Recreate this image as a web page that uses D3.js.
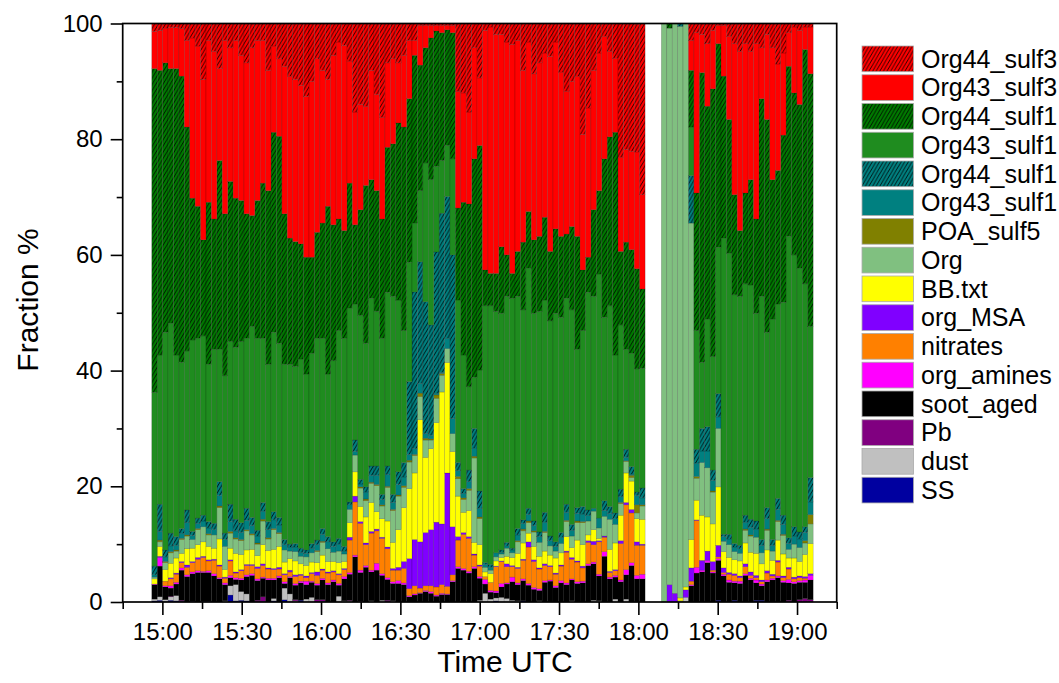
<!DOCTYPE html>
<html>
<head>
<meta charset="utf-8">
<script src="https://cdn.jsdelivr.net/npm/d3@7"></script>
<style>
  html, body { margin: 0; padding: 0; background: #fff; }
  svg text { font-family: "Liberation Sans", Arial, sans-serif; fill: #000; }
</style>
</head>
<body>
<svg id="chart" width="1059" height="683"></svg>
<script>
// ── time bins (2.05 min steps, gap of 3 bins before the Org-only period) ──
const binStart = '14:56:00';
const binSeconds = 123;
const xDomain = ['14:45', '19:15'];
const majorTicks = ['15:00', '15:30', '16:00', '16:30', '17:00', '17:30', '18:00', '18:30', '19:00'];
const minorTicks = ['14:45', '15:15', '15:45', '16:15', '16:45', '17:15', '17:45', '18:15', '18:45', '19:15'];
const yMajor = [0, 20, 40, 60, 80, 100];
const yMinor = [10, 30, 50, 70, 90];

// ── fraction % per series (bottom of stack first) ──
const SS = [.2,.3,.1,.3,.2,.1,0,.1,0,.1, .1,0,0,0,1.2,.2,.3,.2,0,0, .1,0,.2,0,.4,0,0,.3,0,0, 0,.1,0,0,0,0,0,0,0,0,
  0,0,0,0,0,0,0,0,0,0, 0,0,0,0,0,0,0,0,0,0, 0,0,0,.2,0,0,0,0,.2,0, 0,0,0,0,0,0,0,0,0,0, 0,0,0,0,0,0,0,0,0,0, 0,
  null,null,null, 0,0,0,0,0,
  0,0,0,0,0,.3,0,0,.3,0, 0,0,.3,.3,0,0,0,0,0,0, 0,0,0];
const dust = [.3,.6,.3,.6,.9,0,0,0,0,0, 0,0,0,.2,1.6,2.8,1.5,1.2,0,0, 0,0,.4,0,2.0,1.4,.2,0,.5,.8, 0,0,0,0,1.0,.2,.2,0,0,0,
  .2,0,.3,0,.2,0,0,0,0,0, 0,0,0,0,0,0,0,0,0,0, .3,1.5,.5,.5,.8,.6,.3,.2,0,0, 0,.2,0,0,0,0,0,.2,0,0, 0,.3,.2,0,0,.5,0,.5,0,0, 0,
  null,null,null, 0,0,0,.2,.8,
  0,0,0,0,0,0,0,0,0,0, 0,0,0,0,0,0,0,0,0,0, 0,0,0];
const Pb = [0,0,0,.1,0,.2,0,0,0,0, 0,0,0,0,0,0,0,0,0,.3, .8,0,0,0,0,0,.2,0,0,0, .4,.3,0,0,0,0,.1,0,.1,0,
  0,0,0,.3,0,0,0,0,0,0, 0,0,0,0,0,0,0,0,0,0, 0,0,0,0,0,0,0,0,0,0, 0,0,0,0,0,0,0,0,0,0, 0,0,0,0,0,0,0,0,0,0, 0,
  null,null,null, 0,0,0,0,0,
  0,0,0,0,0,0,0,0,0,0, 0,0,0,0,0,0,0,0,.3,0, .4,.6,.4];
const soot = [2.5,5.3,2.2,1.4,2.0,5.2,4.4,4.8,5.1,5.0, 5.0,4.5,4.0,2.8,1.4,.9,2.0,3.0,4.6,3.4, 3.2,3.8,3.2,4.2,.8,2.8,2.5,3.0,2.5,2.6,
  2.5,3.4,3.0,3.5,1.9,3.8,4.5,7.8,5.0,6.0, 5.0,5.5,4.3,3.6,3.0,3.2,3.0,.9,1.2,1.5, 1.8,1.5,1.0,1.3,1.3,3.5,5.8,5.5,5.0,5.8,
  3.8,1.6,1.2,.9,1.8,2.5,3.2,2.8,3.5,2.9, 2.2,1.8,3.4,3.6,2.5,3.3,3.0,3.6,3.2,3.3, 6.3,6.3,4.3,7.9,4.0,3.8,3.5,4.2,6.3,4.0, 4.0,
  null,null,null, 0,0,0,0,0,
  2.8,5.0,5.2,6.8,5.0,6.9,4.5,3.4,3.0,3.2, 4.6,3.8,3.0,2.5,3.5,3.8,4.2,3.4,3.0,3.2, 3.0,2.8,3.4];
const amines = [.1,1.5,.2,.4,.3,.4,.3,.3,.3,.2, .3,.4,.2,.3,.4,.3,.3,.3,.3,.3, .2,.3,.3,.3,.3,.2,.3,.3,.6,.2,
  .3,.3,.3,.3,.3,.4,.3,.3,.4,.3, .3,1.2,.3,.3,.3,.5,.3,.2,.2,.1, .2,.3,.2,.2,.1,.2,.3,.3,.3,.3,
  .3,.8,.3,.3,.6,.2,.8,.3,.3,.3, .3,.3,.3,.2,.3,.4,.3,.2,.3,.3, .3,.3,.3,.8,.3,.3,.3,.9,.5,.6, .8,
  null,null,null, 0,0,0,0,0,
  .2,1.0,.3,.4,.2,.3,.3,.4,.3,.4, .3,.3,.5,.3,.3,.3,.3,.3,.6,.3, .3,.4,.8];
const nitrates = [0,0,.8,1.2,1.4,.9,1.3,1.6,2.0,2.4, 1.7,2.3,2.0,.8,2.5,.8,1.3,1.6,1.4,1.8, 2.0,1.6,1.5,1.2,1.2,.8,1.2,1.0,.6,1.3,
  1.4,1.4,1.7,1.4,1.5,1.2,5.6,9.2,8.1,3.6, 6.4,5.6,6.1,5.0,2.0,1.8,2.5,1.2,1.4,.8, .8,1.0,1.4,1.5,1.3,1.0,4.6,5.9,5.7,2.0,
  1.8,.5,1.4,4.2,3.8,2.8,1.8,2.5,3.2,6.3, 4.5,3.4,2.6,2.3,2.0,2.5,5.3,3.4,3.4,2.3, 3.7,3.0,5.6,2.5,.8,.8,6.3,11.2,8.6,5.2, 5.0,
  null,null,null, 0,0,0,0,0,
  .6,8.1,0,0,.3,.3,.3,1.0,1.0,.6, 1.2,.5,.4,.4,1.2,.4,2.4,.5,1.8,.5, .5,.3,0];
const orgMSA = [0,.2,0,.2,.2,.2,.4,.2,.3,.2, .2,.2,.2,.2,.2,.2,.2,.2,.2,.3, .3,.2,.2,.3,.2,.3,.3,.2,.3,.2,
  .6,.2,.2,.2,.2,.2,.5,1.0,.3,.3, .3,.3,.2,.3,.3,.5,1.2,5.2,8.0,8.0, 9.2,9.7,11.2,10.5,19.6,8.3,.6,.3,.3,.2,
  .2,0,0,.1,.1,.5,.2,.2,.2,.9, .3,.2,.3,.2,.2,.2,.2,.3,.2,.3, .3,.6,.2,.2,.2,.2,.5,.4,.6,.6, .2,
  null,null,null, 0,3.0,1.5,0,1.3,
  2.3,.1,1.7,1.6,1.5,2.0,.8,.3,.3,.3, .5,.6,.4,.3,.4,.3,.3,.3,.3,.3, .3,.3,.3];
const BB = [.9,1.7,2.0,2.5,2.6,1.4,2.8,2.3,2.2,2.5, 2.3,1.9,4.5,1.3,2.0,3.2,2.6,2.5,2.6,1.9, 3.3,3.0,3.3,3.6,2.0,2.0,2.4,1.8,1.8,1.8,
  1.6,2.4,1.8,1.6,1.9,1.2,2.5,4.2,2.6,4.5, 5.0,3.0,3.2,4.5,4.5,6.5,9.3,12.1,11.5,21.1, 13.0,14.0,17.2,22.8,19.1,13.0,7.0,3.5,4.5,2.0,
  3.5,.8,1.5,.9,.6,1.3,1.4,2.4,2.8,1.5, 2.3,2.0,2.2,1.8,2.6,2.1,2.5,1.7,3.6,3.7, 1.0,2.0,.4,0,3.8,4.6,4.4,5.1,4.9,4.0, 4.3,
  null,null,null, 0,0,0,.5,.5,
  4.9,3.4,7.8,5.9,6.5,10.1,2.8,2.6,2.4,2.6, 3.6,3.4,3.8,2.8,3.6,2.4,3.5,3.8,1.6,3.3, 2.5,3.8,5.2];
const Org = [.3,.8,1.2,1.8,1.2,2.4,2.2,1.5,2.6,2.6, 2.0,2.3,5.4,4.0,2.6,2.5,2.4,3.3,2.5,2.0, 4.1,2.0,3.4,2.2,2.1,1.3,1.6,1.3,1.5,1.6,
  1.9,2.2,2.2,1.6,2.0,1.3,2.3,2.9,3.2,2.8, 3.3,4.5,2.2,5.8,5.5,5.8,3.5,4.6,3.0,4.0, 3.0,1.5,4.2,2.9,2.4,3.1,3.0,2.2,3.5,14.6,
  4.5,.8,.6,.7,.6,1.4,.8,2.0,2.1,1.8, 2.5,2.4,3.2,1.6,1.2,1.6,2.6,2.0,3.0,3.8, 2.4,3.2,1.8,3.4,5.2,3.2,2.0,2.0,.6,1.0, 2.3,
  null,null,null, 100,96.2,98.5,98.8,97.4,
  54.7,3.8,9.1,8.5,5.5,10.1,1.8,2.2,1.4,1.3, 2.2,2.8,2.8,1.9,3.4,1.6,3.2,3.2,1.5,2.4, 2.4,2.0,3.4];
const POAsulf5 = [0,.3,.2,.2,.2,.2,.2,0,.2,0, .2,0,.3,0,.3,.2,.2,.2,.2,.2, .3,.2,.2,.2,0,0,0,0,0,0,
  .2,.2,0,0,0,0,0,0,.2,.3, .2,.2,.2,.2,.2,.2,.3,.3,.2,.6, .3,.2,.6,.3,0,0,.4,.3,.3,.3,
  .3,0,0,0,0,0,0,.2,.3,.3, .2,0,.2,0,0,0,.2,0,.3,.2, 0,0,0,0,0,0,.2,.1,.4,1.4, .2,
  null,null,null, 0,0,0,0,0,
  0,.3,0,0,.2,0,0,0,0,0, .2,.2,0,0,.2,0,.2,.2,0,0, 0,.4,1.6];
const org43sulf1b = [.4,1.5,.8,1.0,.8,.9,2.1,.7,.9,1.0, 1.0,.9,1.8,1.2,1.7,1.2,1.2,1.6,1.4,1.2, 1.4,1.4,1.5,1.3,.9,.7,.8,.7,.6,.8,
  1.0,1.2,1.2,1.0,1.2,.5,.8,.6,.5,1.2, 1.2,1.6,.9,2.0,1.2,1.8,1.5,1.0,1.0,1.7, .8,.6,.3,.2,1.8,2.6,1.0,.8,1.2,1.4,
  1.5,.5,.5,.7,.3,.4,.5,1.0,1.0,1.1, .9,1.0,1.6,.9,.8,1.1,1.4,1.0,1.3,1.3, 1.0,.5,1.7,1.0,1.0,1.0,1.0,.6,.2,1.6, 1.2,
  null,null,null, 0,0,0,0,0,
  0,2.3,2.0,2.9,1.8,2.0,.8,1.0,.8,.8, 1.2,1.3,1.4,1.3,1.8,1.0,1.9,1.7,1.0,1.4, 1.5,1.4,2.2];
const org44sulf1b = [1.5,4.7,1.2,2.2,1.5,.8,2.2,.7,.9,1.0, 1.1,1.1,2.4,1.1,3.0,2.0,1.7,2.1,1.4,1.0, 1.5,1.4,1.4,1.3,.9,.5,.6,.7,.6,.8,
  .8,1.0,.9,.8,1.0,.8,.5,2.0,.8,.9, 1.6,1.6,.9,1.5,1.4,2.2,2.5,12.6,27.1,21.0, 22.8,19.1,24.4,27.5,24.5,28.3,1.4,.8,2.0,3.4,
  3.0,.3,.5,0,.4,.6,.3,1.1,.6,1.1, .8,.8,1.7,.8,.8,.8,1.4,1.0,1.0,1.3, .9,0,0,1.7,1.2,1.0,1.3,1.4,1.3,.6, 1.7,
  null,null,null, 0,0,0,.5,0,
  8.2,2.4,3.9,4.2,1.8,4.0,.4,.8,.6,.6, 1.2,1.4,1.4,1.0,1.9,1.0,1.9,1.6,1.0,1.6, 1.2,1.0,4.2];
const org43sulf1 = [30.0,25.8,37.6,36.3,31.4,28.7,27.5,33.1,31.1,31.0, 27.2,30.1,22.9,27.2,28.1,29.7,31.3,29.4,33.0,33.2,
  28.4,27.2,31.0,30.1,30.3,31.1,30.6,32.7,30.4,32.9, 34.9,32.9,28.1,31.3,35.9,36.0,33.5,23.5,28.3,24.8,
  29.0,26.7,27.0,30.0,34.2,29.7,22.8,20.6,11.9,12.3, 24.0,25.1,14.8,9.1,8.8,16.6,28.1,23.1,14.4,8.8,
  20.9,44.4,44.7,41.7,40.9,42.5,43.2,40.1,36.3,41.5, 35.9,38.1,36.7,37.2,39.5,37.2,35.6,37.1,27.4,30.4,
  37.6,36.6,42.2,31.7,34.7,27.3,28.4,17.3,19.6,21.3, 20.7,
  null,null,null, 0,0,0,0,0,
  8.4,20.5,11.4,18.6,19.6,25.3,51.2,48.6,43.0,43.0, 40.0,40.5,35.9,42.0,30.3,38.1,33.6,36.8,52.1,47.0, 45.6,42.0,26.1];
const org44sulf1 = [56.0,49.2,46.6,44.0,49.5,49.5,38.7,24.5,22.8,16.6, 28.0,22.5,32.6,28.0,27.7,25.8,24.4,21.5,19.2,23.8,
  26.8,30.0,34.6,35.8,26.0,21.8,21.6,19.9,20.2,16.6, 18.3,19.9,29.0,23.5,19.3,18.6,21.6,13.7,18.3,27.3,
  20.5,20.9,20.6,25.1,26.4,30.6,35.2,28.3,29.0,21.7, 19.9,24.5,23.4,22.1,20.0,21.8,15.9,26.4,31.6,37.8,
  38.8,6.2,5.6,6.6,11.5,7.2,4.3,7.8,11.7,9.8, 12.7,13.0,14.3,12.0,14.6,14.0,11.1,14.4,19.5,10.5,
  6.1,15.0,14.4,27.4,29.2,38.5,12.7,18.5,17.9,17.3, 13.7,
  null,null,null, 0,.8,0,0,0,
  9.8,23.8,50.1,36.8,46.3,35.2,28.0,23.1,17.3,11.4, 15.7,18.2,16.3,34.2,36.8,24.1,23.1,28.9,29.4,28.0, 28.3,40.5,43.7];
const org43sulf3 = [6.4,6.9,6.0,7.1,7.1,8.2,15.0,27.7,27.7,27.7, 28.0,29.0,15.9,30.0,23.1,27.3,25.1,26.1,29.0,27.7,
  24.7,20.8,14.9,13.4,25.5,28.0,28.0,27.4,27.8,30.4, 30.0,26.4,21.9,29.3,30.6,32.0,21.1,19.5,18.2,13.7,
  18.9,16.6,17.6,14.6,14.7,10.4,12.4,10.1,2.6,6.9, 3.9,2.2,1.0,1.3,.8,1.3,20.2,18.9,15.9,19.2,
  11.7,41.4,42.6,41.3,36.7,36.8,39.6,36.5,29.7,29.3, 28.7,30.0,28.4,33.7,32.3,28.4,24.7,25.1,27.7,23.4,
  25.8,24.1,23.8,21.2,14.8,12.8,16.3,16.0,17.0,20.2, 16.3,
  null,null,null, 0,0,0,0,0,
  5.2,27.7,6.6,10.8,10.1,3.2,8.8,14.4,26.1,31.0, 25.8,22.2,30.3,8.8,14.7,22.8,18.4,14.2,5.8,11.4, 12.8,3.9,8.1];
const org44sulf3 = [1.4,1.2,.8,.7,.7,.9,2.9,2.5,3.9,9.7, 2.9,4.8,7.8,2.9,4.2,2.9,5.5,6.8,4.2,2.9,
  2.9,8.1,3.9,6.1,7.4,9.1,9.7,10.7,12.6,10.0, 6.1,8.1,9.7,5.5,3.2,3.8,6.5,15.3,14.0,14.3,
  8.1,12.3,16.2,6.8,6.1,6.8,5.5,2.9,2.9,.3, .3,.3,.3,.3,.3,.3,11.7,12.0,15.3,4.2,
  9.4,1.2,.6,1.9,1.9,3.2,3.6,2.9,8.1,3.2, 8.7,6.8,5.1,5.7,3.2,8.4,11.7,10.0,9.1,19.2,
  14.6,8.1,5.1,2.2,4.8,6.0,23.1,21.8,22.1,22.1, 29.6,
  null,null,null, 0,0,0,0,0,
  2.9,1.6,1.9,3.5,1.2,.3,.3,2.2,3.5,4.8, 3.5,4.8,3.5,4.2,1.9,4.2,7.0,5.1,1.6,.6, 1.2,.6,.6];

// stack order bottom → top; legend is drawn top → bottom
const series = [
  { key: 'SS',          label: 'SS',          values: SS,          color: '#0000A0' },
  { key: 'dust',        label: 'dust',        values: dust,        color: '#C0C0C0' },
  { key: 'Pb',          label: 'Pb',          values: Pb,          color: '#800080' },
  { key: 'soot',        label: 'soot_aged',   values: soot,        color: '#000000' },
  { key: 'amines',      label: 'org_amines',  values: amines,      color: '#FF00FF' },
  { key: 'nitrates',    label: 'nitrates',    values: nitrates,    color: '#FF8000' },
  { key: 'msa',         label: 'org_MSA',     values: orgMSA,      color: '#8000FF' },
  { key: 'bb',          label: 'BB.txt',      values: BB,          color: '#FFFF00' },
  { key: 'org',         label: 'Org',         values: Org,         color: '#80C080' },
  { key: 'poa',         label: 'POA_sulf5',   values: POAsulf5,    color: '#808000' },
  { key: 'o43s1b',      label: 'Org43_sulf1', values: org43sulf1b, color: '#008080' },
  { key: 'o44s1b',      label: 'Org44_sulf1', values: org44sulf1b, color: '#008080', hatch: true },
  { key: 'o43s1',       label: 'Org43_sulf1', values: org43sulf1,  color: '#1F8C1F' },
  { key: 'o44s1',       label: 'Org44_sulf1', values: org44sulf1,  color: '#007A00', hatch: true },
  { key: 'o43s3',       label: 'Org43_sulf3', values: org43sulf3,  color: '#FF0000' },
  { key: 'o44s3',       label: 'Org44_sulf3', values: org44sulf3,  color: '#FF0000', hatch: true }
];

// ── layout ──
const M = { left: 122.7, top: 23.5, right: 836.7, bottom: 602 };
const iW = M.right - M.left, iH = M.bottom - M.top;

const parseHM = d3.timeParse('%H:%M');
const parseHMS = d3.timeParse('%H:%M:%S');
const t0 = parseHMS(binStart);
const nBins = SS.length;

const rows = d3.range(nBins).map(i => {
  const row = { t: d3.timeSecond.offset(t0, i * binSeconds), gap: SS[i] === null };
  series.forEach(s => { row[s.key] = s.values[i] || 0; });
  return row;
});

const x = d3.scaleTime().domain(xDomain.map(parseHM)).range([0, iW]);
const y = d3.scaleLinear().domain([0, 100]).range([iH, 0]);

const svg = d3.select('#chart');
const defs = svg.append('defs');

function makeHatch(id, base) {
  const w = 3.6, h = 6.2;
  const p = defs.append('pattern').attr('id', id)
    .attr('patternUnits', 'userSpaceOnUse').attr('width', w).attr('height', h);
  p.append('rect').attr('width', w).attr('height', h).attr('fill', base);
  [-w, 0, w].forEach(o => p.append('line')
    .attr('x1', o).attr('y1', h).attr('x2', o + w).attr('y2', 0)
    .attr('stroke', '#000').attr('stroke-width', 0.8));
}
series.forEach(s => {
  if (s.hatch) { s.fill = `url(#hatch-${s.key})`; makeHatch(`hatch-${s.key}`, s.color); }
  else s.fill = s.color;
});

const g = svg.append('g').attr('transform', `translate(${M.left},${M.top})`);

// ── stacked bars ──
const stacked = d3.stack().keys(series.map(s => s.key))(rows);
stacked.forEach((layer, li) => {
  const s = series[li];
  g.append('g').selectAll('rect')
    .data(layer.filter(d => !d.data.gap && d[1] - d[0] > 0))
    .join('rect')
    .attr('x', d => x(d.data.t))
    .attr('width', d => x(d3.timeSecond.offset(d.data.t, binSeconds)) - x(d.data.t))
    .attr('y', d => y(d[1]))
    .attr('height', d => y(d[0]) - y(d[1]))
    .attr('fill', s.fill)
    .attr('stroke', 'rgba(0,0,0,0.3)')
    .attr('stroke-width', 0.5);
});

// ── axes ──
const styleAxis = sel => {
  sel.select('.domain').remove();
  sel.selectAll('line').attr('stroke', '#000').attr('stroke-width', 1.6);
  sel.selectAll('text').attr('font-size', '24px');
};

g.append('g').attr('transform', `translate(0,${iH})`)
  .call(d3.axisBottom(x).tickValues(majorTicks.map(parseHM)).tickSize(13).tickPadding(8)
    .tickFormat(d3.timeFormat('%H:%M')))
  .call(styleAxis);
g.append('g').attr('transform', `translate(0,${iH})`)
  .call(d3.axisBottom(x).tickValues(minorTicks.map(parseHM)).tickSize(7).tickFormat(''))
  .call(styleAxis);

g.append('g')
  .call(d3.axisLeft(y).tickValues(yMajor).tickSize(12).tickPadding(8).tickFormat(d3.format('d')))
  .call(styleAxis);
g.append('g')
  .call(d3.axisLeft(y).tickValues(yMinor).tickSize(6).tickFormat(''))
  .call(styleAxis);

// frame
g.append('rect').attr('width', iW).attr('height', iH)
  .attr('fill', 'none').attr('stroke', '#000').attr('stroke-width', 1.7);

// axis titles
svg.append('text')
  .attr('transform', `translate(38,300) rotate(-90)`)
  .attr('text-anchor', 'middle').attr('font-size', '30px')
  .text('Fraction %');
svg.append('text')
  .attr('x', 505).attr('y', 672)
  .attr('text-anchor', 'middle').attr('font-size', '30px')
  .text('Time UTC');

// ── legend ──
const legend = svg.append('g').attr('transform', 'translate(862,46)');
const legendItems = series.slice().reverse();
const rowH = 28.75;
legendItems.forEach((s, i) => {
  const row = legend.append('g').attr('transform', `translate(0,${i * rowH})`);
  row.append('rect').attr('width', 51.5).attr('height', 25.7)
    .attr('fill', s.fill).attr('stroke', '#aaa').attr('stroke-width', 0.8);
  row.append('text').attr('x', 59).attr('y', 12.85).attr('dy', '0.35em')
    .attr('font-size', '25px').text(s.label);
});
</script>
</body>
</html>
